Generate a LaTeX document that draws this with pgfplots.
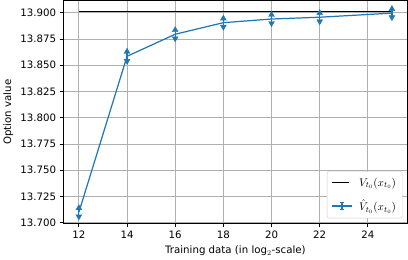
\documentclass[border=0pt]{standalone}
\usepackage{pgfplots}
\pgfplotsset{compat=1.18}
\usepackage{fontspec}
\setmainfont{DejaVu Sans}
\definecolor{tabblue}{HTML}{1F77B4}
\begin{document}
\begin{tikzpicture}[x=1bp,y=1bp]
\begin{axis}[
  scale only axis,
  width=336bp, height=218bp,
  xmin=11.35, xmax=25.65,
  ymin=13.699, ymax=13.9117,
  xtick={12,14,16,18,20,22,24},
  ytick={13.700,13.725,13.750,13.775,13.800,13.825,13.850,13.875,13.900},
  yticklabel style={/pgf/number format/.cd, fixed, fixed zerofill, precision=3, 1000 sep={}},
  /pgf/number format/assume math mode=true,
  tick label style={font=\fontsize{10}{12}\selectfont},
  label style={font=\fontsize{10}{12}\selectfont},
  xlabel={Training data (in log$_2$-scale)},
  ylabel={Option value},
  grid=major,
  grid style={color=black!31, line width=0.8pt},
  tick align=outside,
  xtick pos=bottom, ytick pos=left,
  major tick length=3.5bp,
  tick style={black, line width=0.8pt},
  axis line style={line width=0.8pt},
  legend style={at={(rel axis cs:0.985,0.025)}, anchor=south east, draw=black!20, rounded corners=2pt, font=\fontsize{11}{13}\selectfont, row sep=8pt, inner sep=4pt, column sep=4pt},
  legend cell align=left,
]
\addplot[black, line width=1pt] coordinates {(12,13.9015) (25,13.9015)};
\addlegendentry{$V_{t_0}(x_{t_0})$}
\addplot[tabblue, line width=1.2pt, mark=none,
  legend image code/.code={
  \draw[tabblue, line width=1.6pt] (0cm,0cm) -- (0.7cm,0cm);
  \draw[tabblue, line width=1.6pt] (0.35cm,-0.12cm) -- (0.35cm,0.12cm);
  \draw[tabblue, line width=1.2pt] (0.28cm,-0.12cm) -- (0.42cm,-0.12cm);
  \draw[tabblue, line width=1.2pt] (0.28cm,0.12cm) -- (0.42cm,0.12cm);},
  error bars/.cd, y dir=both, y explicit, error bar style={line width=1.2pt}, error mark=none]
  coordinates {
  (12,13.710) +- (0,0.004)
  (14,13.8585) +- (0,0.0045)
  (16,13.8795) +- (0,0.004)
  (18,13.8905) +- (0,0.004)
  (20,13.8940) +- (0,0.004)
  (22,13.8957) +- (0,0.004)
  (25,13.8996) +- (0,0.004)
  };
\addlegendentry{$\hat{V}_{t_0}(x_{t_0})$}
\addplot[tabblue, only marks, mark=triangle*, mark size=3.3pt, forget plot] coordinates {
  (12,13.714) (14,13.863) (16,13.8835) (18,13.8945) (20,13.898) (22,13.8997) (25,13.9036)};
\addplot[tabblue, only marks, mark=triangle*, mark size=3.3pt, mark options={rotate=180}, forget plot] coordinates {
  (12,13.706) (14,13.854) (16,13.8755) (18,13.8865) (20,13.890) (22,13.8917) (25,13.8956)};
\end{axis}
\end{tikzpicture}
\end{document}
